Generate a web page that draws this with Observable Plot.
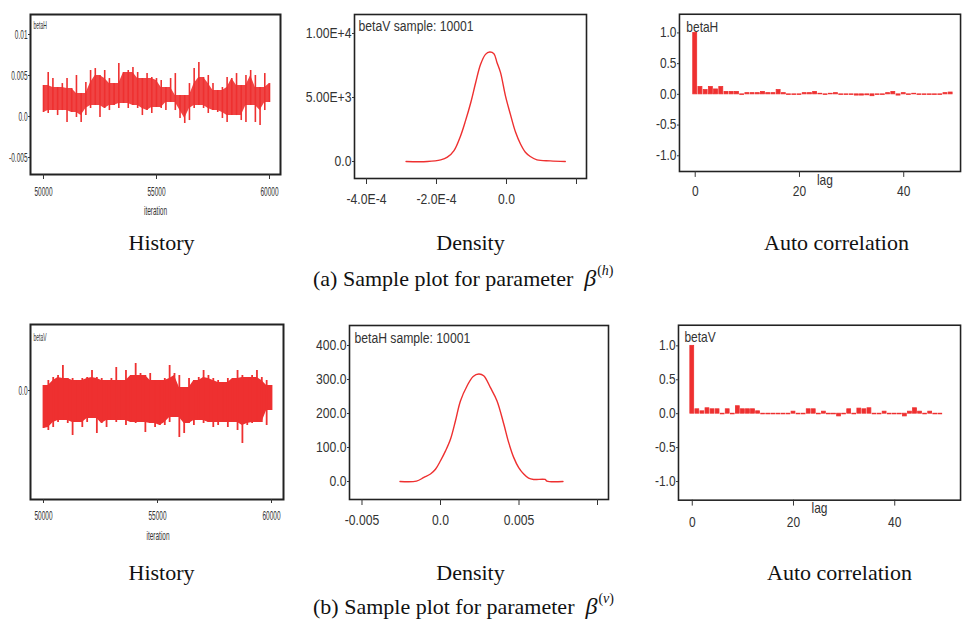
<!DOCTYPE html>
<html><head><meta charset="utf-8">
<script src="https://cdn.jsdelivr.net/npm/d3@7"></script>
<script src="https://cdn.jsdelivr.net/npm/@observablehq/plot@0.6"></script>
<style>
html,body{margin:0;padding:0;background:#fff;overflow:hidden;}
#fig{position:relative;width:964px;height:627px;overflow:hidden;background:#fff;}
.panel{position:absolute;}
.ttl{position:absolute;font-family:"Liberation Serif","Times New Roman",serif;font-size:22px;line-height:1;color:#111;white-space:nowrap;transform:translateX(-50%);}
.cap{position:absolute;font-family:"Liberation Serif","Times New Roman",serif;font-size:22px;line-height:1;color:#111;white-space:nowrap;}
.cap .b{font-style:italic;font-size:24px;}
.cap sup{font-size:14px;position:relative;top:-11px;vertical-align:baseline;margin-left:1px;}
</style></head><body><div id="fig"></div><script>
// ---------- data ----------
// History traces: per-segment high / low envelope (iterations 50000..60000)
const histA_hi = [0.00378,0.00537,0.00463,0.00354,0.00402,0.00463,0.00341,0.00500,0.00280,0.00415,0.00561,0.00585,0.00500,0.00561,0.00463,0.00402,0.00646,0.00537,0.00561,0.00598,0.00537,0.00463,0.00524,0.00476,0.00463,0.00439,0.00354,0.00463,0.00524,0.00256,0.00256,0.00402,0.00585,0.00659,0.00476,0.00500,0.00402,0.00317,0.00354,0.00476,0.00463,0.00524,0.00378,0.00500,0.00561,0.00500,0.00354,0.00524,0.00402];
const histA_lo = [0.00049,0.00037,0.00073,0.00012,0.00073,-0.00073,0.00049,-0.00012,-0.00073,0.00012,0.00098,0.00134,-0.00012,0.00098,0.00073,0.00134,0.00098,0.00159,0.00098,0.00134,0.00098,0.00012,0.00073,0.00037,0.00110,0.00098,0.00073,0.00171,0.00073,-0.00024,-0.00085,-0.00049,0.00098,0.00134,0.00098,0.00037,0.00073,0.00049,-0.00024,-0.00073,0.00012,0.00012,-0.00049,-0.00073,0.00134,-0.00073,-0.00110,0.00073,0.00171];
const histB_hi = [25e-6,50e-6,65e-6,75e-6,125e-6,60e-6,60e-6,50e-6,60e-6,65e-6,100e-6,65e-6,60e-6,50e-6,60e-6,115e-6,50e-6,100e-6,75e-6,135e-6,85e-6,75e-6,85e-6,50e-6,50e-6,60e-6,125e-6,85e-6,75e-6,15e-6,60e-6,50e-6,65e-6,100e-6,75e-6,60e-6,50e-6,40e-6,60e-6,60e-6,100e-6,75e-6,65e-6,75e-6,100e-6,65e-6,50e-6,25e-6];
const histB_lo = [-190e-6,-200e-6,-185e-6,-160e-6,-150e-6,-165e-6,-225e-6,-160e-6,-185e-6,-160e-6,-140e-6,-215e-6,-165e-6,-185e-6,-150e-6,-160e-6,-150e-6,-175e-6,-160e-6,-165e-6,-160e-6,-210e-6,-165e-6,-185e-6,-175e-6,-175e-6,-160e-6,-135e-6,-235e-6,-215e-6,-165e-6,-175e-6,-150e-6,-165e-6,-160e-6,-185e-6,-175e-6,-160e-6,-185e-6,-160e-6,-200e-6,-265e-6,-175e-6,-165e-6,-160e-6,-160e-6,-175e-6,-100e-6];
const iterStart = 50000, iterEnd = 60000;

// Density curves
const densA_x = [-2.87e-4,-2.26e-4,-1.88e-4,-1.69e-4,-1.50e-4,-1.31e-4,-1.17e-4,-1.02e-4,-0.88e-4,-0.74e-4,-0.60e-4,-0.48e-4,-0.36e-4,-0.27e-4,-0.17e-4,-0.03e-4,0.11e-4,0.26e-4,0.40e-4,0.54e-4,0.68e-4,0.87e-4,1.25e-4,1.68e-4];
const densA_y = [0,0,130,337,855,2020,3190,4610,6170,7590,8370,8550,8420,7720,6940,5130,3700,2280,1370,725,390,130,50,0];
const densB_x = [-2.58e-3,-1.53e-3,-1.06e-3,-0.64e-3,-0.32e-3,0,0.32e-3,0.64e-3,0.95e-3,1.27e-3,1.69e-3,2.08e-3,2.44e-3,2.75e-3,3.18e-3,3.60e-3,4.03e-3,4.34e-3,4.66e-3,4.98e-3,5.30e-3,5.61e-3,5.93e-3,6.67e-3,6.78e-3,7.80e-3];
const densB_y = [0,1,12,22,36,61,90,125,178,237,281,309,316,311,276,237,169,115,71,41,22,10,6,6,1,0];

// Autocorrelations, lags 0..49
const acfA = [1.0,0.12,0.07,0.12,0.08,0.12,0.04,0.04,0.04,-0.01,0.02,0.02,0.02,0.04,0.02,0.02,0.07,0.02,-0.01,-0.01,-0.01,0.02,0.02,0.04,0.01,-0.01,0.01,0.02,-0.01,-0.01,-0.01,-0.02,-0.02,-0.015,-0.03,-0.01,-0.01,0.02,0.04,-0.02,0.02,-0.01,0.01,-0.01,-0.01,-0.01,-0.01,-0.01,0.02,0.03];
const acfB = [1.0,0.065,0.035,0.08,0.065,0.065,-0.01,0.065,-0.01,0.11,0.065,0.065,0.065,0.035,-0.01,-0.01,-0.01,-0.01,-0.01,-0.01,0.03,-0.01,-0.01,0.065,0.065,-0.01,0.03,-0.01,-0.01,-0.04,-0.01,0.065,-0.01,0.075,0.065,0.08,-0.01,-0.01,0.03,-0.01,-0.01,-0.01,-0.04,0.03,0.08,0.03,-0.01,0.03,-0.01,-0.01];

// Ticks and labels
const histX_ticks = [50000,55000,60000];
const histX_labels = ["50000","55000","60000"];
const histA_yticks = [0.01,0.005,0,-0.005];
const histA_ylabels = ["0.01","0.005","0.0","-0.005"];
const histB_yticks = [0];
const histB_ylabels = ["0.0"];
const densA_xticks = [-4e-4,-2e-4,0,2e-4];
const densA_xlabels = ["-4.0E-4","-2.0E-4","0.0",""];
const densA_yticks = [10000,5000,0];
const densA_ylabels = ["1.00E+4","5.00E+3","0.0"];
const densB_xticks = [-0.005,0,0.005,0.01];
const densB_xlabels = ["-0.005","0.0","0.005",""];
const densB_yticks = [400,300,200,100,0];
const densB_ylabels = ["400.0","300.0","200.0","100.0","0.0"];
const acf_xticks = [0,20,40];
const acf_xlabels = ["0","20","40"];
const acf_yticks = [1,0.5,0,-0.5,-1];
const acf_ylabels = ["1.0","0.5","0.0","-0.5","-1.0"];

const panelTitles = ["History","Density","Auto correlation"];
const captionA = ["(a) Sample plot for parameter", "β", "(h)"];
const captionB = ["(b) Sample plot for parameter", "β", "(v)"];

// ---------- drawing ----------
const RED = "#ee3030";
const fig = document.getElementById("fig");
const NARROW = "'Liberation Sans Narrow','Arial Narrow','Liberation Sans',Arial,sans-serif";
const SANS = "'Liberation Sans',Arial,Helvetica,sans-serif";

// one record per segment: extremes (hi/lo) and the band shared with neighbours (core)
function envelope(hi, lo) {
  const n = hi.length;
  return hi.map((h, i) => {
    const a = Math.max(0, i - 1), b = Math.min(n, i + 2);
    return {
      it: iterStart + i * (iterEnd - iterStart) / (n - 1),
      hi: h, lo: lo[i],
      coreHi: d3.min(hi.slice(a, b)), coreLo: d3.max(lo.slice(a, b))
    };
  });
}

function panel(o) {
  const svg = Plot.plot({
    width: o.w, height: o.h,
    marginLeft: o.ml, marginRight: o.mr, marginTop: o.mt, marginBottom: o.mb,
    x: {domain: o.xd}, y: {domain: o.yd},
    style: {fontFamily: o.font, fontSize: o.fs + "px", color: "#333", background: "transparent", overflow: "visible"},
    marks: [
      ...o.marks,
      Plot.frame({stroke: "#222", strokeWidth: o.fw}),
      Plot.axisX(o.xt, {tickFormat: d => o.xl[o.xt.indexOf(d)], tickSize: o.xts, tickPadding: o.xtp, label: null, fontSize: o.fs}),
      Plot.axisY(o.yt, {tickFormat: d => o.yl[o.yt.indexOf(d)], tickSize: 2, tickPadding: 1, label: null, fontSize: o.fs}),
      Plot.text([o.tag], {frameAnchor: "top-left", dx: o.tagDx, dy: o.tagDy, textAnchor: "start", lineAnchor: "top", fontSize: o.tagFs, fill: "#333"}),
      Plot.text([o.xlabel], {frameAnchor: "bottom", dx: o.xlabDx, dy: o.xlabDy, lineAnchor: "middle", fontSize: o.xlabFs, fill: "#333"})
    ]
  });
  svg.querySelectorAll("text").forEach(t => {
    const tr = t.getAttribute("transform") || "";
    const x = +(t.getAttribute("x") || 0);
    t.setAttribute("transform", `${tr} translate(${x},0) scale(${o.sx},1) translate(${-x},0)`);
  });
  const div = document.createElement("div");
  div.className = "panel";
  div.style.left = o.left + "px";
  div.style.top = o.top + "px";
  div.appendChild(svg);
  fig.appendChild(div);
}

const envA = envelope(histA_hi, histA_lo);
const envB = envelope(histB_hi, histB_lo);
const densA = densA_x.map((x, i) => ({x, y: densA_y[i]}));
const densB = densB_x.map((x, i) => ({x, y: densB_y[i]}));
const acfAd = acfA.map((v, i) => ({lag: i, acf: v}));
const acfBd = acfB.map((v, i) => ({lag: i, acf: v}));
const bars = d => Plot.rectY(d, {x1: r => r.lag - 0.38, x2: r => r.lag + 0.38, y1: 0, y2: "acf", fill: RED, stroke: RED, strokeWidth: 0.8});
const trace = (env, op, sw) => [
  Plot.areaY(env, {x: "it", y1: "coreLo", y2: "coreHi", fill: RED, fillOpacity: op, curve: "linear"}),
  Plot.ruleX(env, {x: "it", y1: "lo", y2: "hi", stroke: RED, strokeWidth: sw})
];

// Row (a)
panel({left: 0, top: 0, w: 290, h: 220, ml: 30, mr: 10, mt: 14, mb: 46,
  xd: [49425, 60487], yd: [-0.00707, 0.01244], font: NARROW, fs: 13, sx: 0.5, fw: 2,
  xt: histX_ticks, xl: histX_labels, xts: 5, xtp: 7, yt: histA_yticks, yl: histA_ylabels,
  tag: "betaH", tagDx: 3, tagDy: 7, tagFs: 10, xlabel: "iteration", xlabDx: 0, xlabDy: 36, xlabFs: 13,
  marks: trace(envA, 0.9, 1.6)});

panel({left: 290, top: 0, w: 320, h: 220, ml: 64, mr: 24, mt: 14, mb: 42,
  xd: [-4.343e-4, 2.286e-4], yd: [-1328, 11484], font: SANS, fs: 14, sx: 0.87, fw: 1.6,
  xt: densA_xticks, xl: densA_xlabels, xts: 6, xtp: 10, yt: densA_yticks, yl: densA_ylabels,
  tag: "betaV sample: 10001", tagDx: 4, tagDy: 7, tagFs: 14, xlabel: "", xlabDx: 0, xlabDy: 0, xlabFs: 14,
  marks: [Plot.line(densA, {x: "x", y: "y", stroke: RED, strokeWidth: 1.4, curve: "catmull-rom"})]});

panel({left: 620, top: 0, w: 350, h: 220, ml: 60, mr: 4, mt: 14, mb: 46,
  xd: [-3.02, 50.9], yd: [-1.256, 1.304], font: SANS, fs: 14, sx: 0.87, fw: 1.6,
  xt: acf_xticks, xl: acf_xlabels, xts: 6, xtp: 9, yt: acf_yticks, yl: acf_ylabels,
  tag: "betaH", tagDx: 7, tagDy: 8, tagFs: 14, xlabel: "lag", xlabDx: 5, xlabDy: 9, xlabFs: 14,
  marks: [bars(acfAd)]});

// Row (b)
panel({left: 0, top: 310, w: 290, h: 240, ml: 30, mr: 7, mt: 14, mb: 51,
  xd: [49430, 60526], yd: [-5.45e-4, 3.3e-4], font: NARROW, fs: 13, sx: 0.5, fw: 2,
  xt: histX_ticks, xl: histX_labels, xts: 4, xtp: 7, yt: histB_yticks, yl: histB_ylabels,
  tag: "betaV", tagDx: 3, tagDy: 9, tagFs: 10, xlabel: "iteration", xlabDx: 1, xlabDy: 36, xlabFs: 13,
  marks: trace(envB, 1, 1.8)});

panel({left: 290, top: 310, w: 330, h: 240, ml: 59, mr: 12, mt: 15, mb: 51,
  xd: [-5.796e-3, 10.70e-3], yd: [-52.9, 458.8], font: SANS, fs: 14, sx: 0.87, fw: 1.6,
  xt: densB_xticks, xl: densB_xlabels, xts: 6, xtp: 10, yt: densB_yticks, yl: densB_ylabels,
  tag: "betaH sample: 10001", tagDx: 5, tagDy: 8, tagFs: 14, xlabel: "", xlabDx: 0, xlabDy: 0, xlabFs: 14,
  marks: [Plot.line(densB, {x: "x", y: "y", stroke: RED, strokeWidth: 1.4, curve: "catmull-rom"})]});

panel({left: 620, top: 310, w: 350, h: 240, ml: 59, mr: 4, mt: 15, mb: 47,
  xd: [-2.72, 53.0], yd: [-1.275, 1.304], font: SANS, fs: 14, sx: 0.87, fw: 1.6,
  xt: acf_xticks, xl: acf_xlabels, xts: 6, xtp: 11, yt: acf_yticks, yl: acf_ylabels,
  tag: "betaV", tagDx: 6, tagDy: 7, tagFs: 14, xlabel: "lag", xlabDx: 0, xlabDy: 9, xlabFs: 14,
  marks: [bars(acfBd)]});

// Titles and captions
function addTitle(text, cx, top) {
  const d = document.createElement("div");
  d.className = "ttl"; d.textContent = text;
  d.style.left = cx + "px"; d.style.top = top + "px";
  fig.appendChild(d);
}
[[161.5, 470.5, 836.5, 232], [161.5, 470.5, 839.5, 562]].forEach(r => {
  panelTitles.forEach((t, i) => addTitle(t, r[i], r[3]));
});
function addCaption(parts, left, top) {
  const d = document.createElement("div");
  d.className = "cap";
  d.style.left = left + "px"; d.style.top = top + "px";
  d.appendChild(document.createTextNode(parts[0] + "\u2002"));
  const b = document.createElement("span"); b.className = "b"; b.textContent = parts[1];
  d.appendChild(b);
  const s = document.createElement("sup");
  s.innerHTML = "(<i>" + parts[2].slice(1, -1) + "</i>)";
  d.appendChild(s);
  fig.appendChild(d);
}
addCaption(captionA, 313, 266);
addCaption(captionB, 313, 594);
</script></body></html>
